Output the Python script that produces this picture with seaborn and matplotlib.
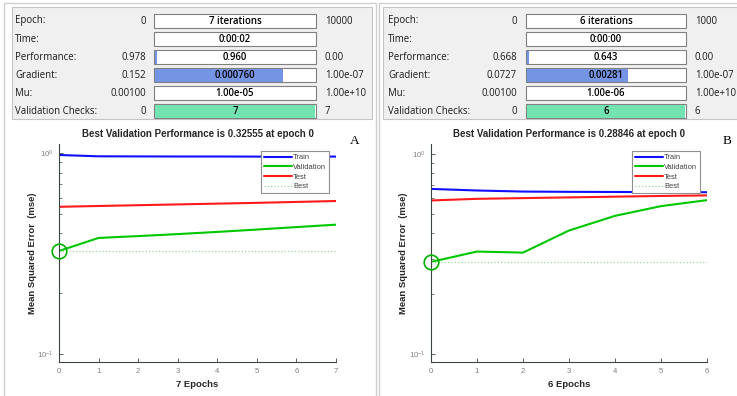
import matplotlib
matplotlib.use("Agg")
import matplotlib.pyplot as plt
from matplotlib.patches import Rectangle
from matplotlib.lines import Line2D
from matplotlib.ticker import LogLocator, NullFormatter, FixedLocator
import numpy as np
import pandas as pd
import seaborn as sns

# ---------------- data ----------------
row_labels = ["Epoch:", "Time:", "Performance:", "Gradient:", "Mu:", "Validation Checks:"]

A_start = ["0", "", "0.978", "0.152", "0.00100", "0"]
A_current = ["7 iterations", "0:00:02", "0.960", "0.000760", "1.00e-05", "7"]
A_end = ["10000", "", "0.00", "1.00e-07", "1.00e+10", "7"]
A_fill = [0.0, 0.0, 0.012, 0.80, 0.0, 1.0]

B_start = ["0", "", "0.668", "0.0727", "0.00100", "0"]
B_current = ["6 iterations", "0:00:00", "0.643", "0.00281", "1.00e-06", "6"]
B_end = ["1000", "", "0.00", "1.00e-07", "1.00e+10", "6"]
B_fill = [0.0, 0.0, 0.012, 0.64, 0.0, 1.0]

A_epochs = [0, 1, 2, 3, 4, 5, 6, 7]
A_train = [0.978, 0.963, 0.962, 0.961, 0.961, 0.960, 0.960, 0.960]
A_validation = [0.32555, 0.378, 0.386, 0.395, 0.405, 0.416, 0.428, 0.440]
A_test = [0.540, 0.545, 0.550, 0.555, 0.560, 0.565, 0.571, 0.577]
A_best = 0.32555
A_best_epoch = 0
A_title = "Best Validation Performance is 0.32555 at epoch 0"
A_xlabel = "7 Epochs"

B_epochs = [0, 1, 2, 3, 4, 5, 6]
B_train = [0.668, 0.656, 0.648, 0.646, 0.645, 0.644, 0.643]
B_validation = [0.28846, 0.325, 0.321, 0.414, 0.490, 0.548, 0.587]
B_test = [0.585, 0.596, 0.601, 0.606, 0.611, 0.616, 0.620]
B_best = 0.28846
B_best_epoch = 0
B_title = "Best Validation Performance is 0.28846 at epoch 0"
B_xlabel = "6 Epochs"

series_names = ["Train", "Validation", "Test"]
series_colors = {"Train": "#1010ff", "Validation": "#00c800", "Test": "#ff1a1a"}

# ---------------- figure ----------------
sns.set_theme(style="white")
plt.rcParams["font.family"] = ["Liberation Sans", "DejaVu Sans"]

W, H = 737, 396
fig = plt.figure(figsize=(W / 100, H / 100), dpi=100)
fig.patch.set_facecolor("white")


def ax_px(x0, y0, x1, y1, **kw):
    return fig.add_axes([x0 / W, 1 - y1 / H, (x1 - x0) / W, (y1 - y0) / H], **kw)


bg = ax_px(0, 0, W, H)
bg.set_xlim(0, W)
bg.set_ylim(H, 0)
bg.axis("off")
bg.set_zorder(0)

# window frames
frame_col = "#cfcfcf"
bg.add_patch(Rectangle((4, 3), 372, 400, fill=False, ec=frame_col, lw=1.0))
bg.add_patch(Rectangle((379, 3), 370, 400, fill=False, ec=frame_col, lw=1.0))

tfont = ["Open Sans", "DejaVu Sans"]
TFS = 6.9


def draw_table(frame, label_x, start_r, bar_x0, bar_x1, end_x, start, cur, end, fill):
    fx0, fy0, fx1, fy1 = frame
    bg.add_patch(Rectangle((fx0, fy0), fx1 - fx0, fy1 - fy0, fc="#f0f0f0", ec="#c4c4c4", lw=0.8))
    for i, lab in enumerate(row_labels):
        yc = 21 + 18 * i
        bg.text(label_x, yc, lab, ha="left", va="center", fontsize=TFS, family=tfont, color="#1a1a1a")
        bg.text(start_r, yc, start[i], ha="right", va="center", fontsize=TFS, family=tfont, color="#1a1a1a")
        bg.text(end_x, yc, end[i], ha="left", va="center", fontsize=TFS, family=tfont, color="#1a1a1a")
        bw = bar_x1 - bar_x0
        bg.add_patch(Rectangle((bar_x0, yc - 7), bw, 14, fc="white", ec="#808080", lw=0.8, zorder=2))
        if fill[i] > 0:
            col = "#73e3b1" if i == 5 else "#7594e4"
            bg.add_patch(Rectangle((bar_x0 + 1, yc - 6.5), (bw - 2) * fill[i], 13, fc=col, ec="none", zorder=3))
        bg.text((bar_x0 + bar_x1) / 2, yc, cur[i], ha="center", va="center", fontsize=TFS,
                family=tfont, color="black", fontweight="semibold", zorder=4)


draw_table((12, 7, 372, 119), 15, 146, 154, 316, 325, A_start, A_current, A_end, A_fill)
draw_table((383, 7, 745, 119), 388, 517, 526, 686, 695, B_start, B_current, B_end, B_fill)

bg.text(355, 141, "A", ha="center", va="center", fontsize=9.5, family=["Liberation Serif"], color="black")
bg.text(727, 141, "B", ha="center", va="center", fontsize=9.5, family=["Liberation Serif"], color="black")


def draw_plot(box, epochs, train, val, test, best, best_ep, title, xlabel, ylim, ylab_x):
    ax = ax_px(*box)
    ax.set_zorder(2)
    ax.patch.set_alpha(0)
    df = pd.DataFrame({
        "Epoch": list(epochs) * 3,
        "MSE": list(train) + list(val) + list(test),
        "Set": ["Train"] * len(epochs) + ["Validation"] * len(epochs) + ["Test"] * len(epochs),
    })
    sns.lineplot(data=df, x="Epoch", y="MSE", hue="Set", hue_order=series_names,
                 palette=series_colors, linewidth=1.5, legend=False, ax=ax)
    ax.set_yscale("log")
    best_df = pd.DataFrame({"Epoch": [epochs[0], epochs[-1]], "MSE": [best, best]})
    sns.lineplot(data=best_df, x="Epoch", y="MSE", color="#9ad89a", linestyle=":", linewidth=0.9, ax=ax)
    ax.plot([best_ep], [best], marker="o", ms=10.5, mfc="none", mec="#00b000", mew=1.2,
            clip_on=False, zorder=5)
    ax.set_xlim(epochs[0], epochs[-1])
    ax.set_ylim(*ylim)
    ax.xaxis.set_major_locator(FixedLocator(epochs))
    ax.yaxis.set_major_locator(LogLocator(base=10, numticks=5))
    ax.yaxis.set_minor_locator(LogLocator(base=10, subs=np.arange(2, 10), numticks=20))
    ax.yaxis.set_minor_formatter(NullFormatter())
    for s in ["top", "right"]:
        ax.spines[s].set_visible(False)
    for s in ["left", "bottom"]:
        ax.spines[s].set_color("#3c4640")
        ax.spines[s].set_linewidth(0.8)
    ax.tick_params(axis="both", which="major", direction="in", length=3, width=0.6,
                   color="#3c4640", labelsize=5.6, labelcolor="#808080", pad=4,
                   bottom=True, left=True)
    ax.tick_params(axis="y", which="minor", direction="in", length=2, width=0.5,
                   color="#3c4640", left=True)
    ax.set_title(title, fontsize=7.0, fontweight="bold", pad=5)
    ax.set_xlabel(xlabel, fontsize=6.8, fontweight="bold", va="center")
    ax.xaxis.set_label_coords(0.5, -0.105)
    ax.set_ylabel("Mean Squared Error  (mse)", fontsize=6.8, fontweight="bold", va="center")
    ax.yaxis.set_label_coords(ylab_x, 0.5)
    handles = [Line2D([], [], color=series_colors[n], lw=1.5) for n in series_names]
    handles.append(Line2D([], [], color="#9ad89a", lw=0.9, ls=":"))
    leg = ax.legend(handles, series_names + ["Best"], loc="upper right",
                    bbox_to_anchor=((box[2] - 7) / W, 1 - (box[1] + 7) / H),
                    bbox_transform=fig.transFigure, fontsize=5.4, frameon=True,
                    fancybox=False, framealpha=1, edgecolor="#909090", handlelength=3.8,
                    handletextpad=0.1, labelspacing=0.32, borderpad=0.4, borderaxespad=0,
                    labelcolor="#404040")
    leg.get_frame().set_linewidth(0.8)
    return ax


draw_plot((59, 144, 336, 362), A_epochs, A_train, A_validation, A_test, A_best, A_best_epoch,
          A_title, A_xlabel, (0.0912, 1.109), -0.097)
draw_plot((431, 144, 707, 362), B_epochs, B_train, B_validation, B_test, B_best, B_best_epoch,
          B_title, B_xlabel, (0.0912, 1.12), -0.10)

fig.savefig("out.png", dpi=100)
